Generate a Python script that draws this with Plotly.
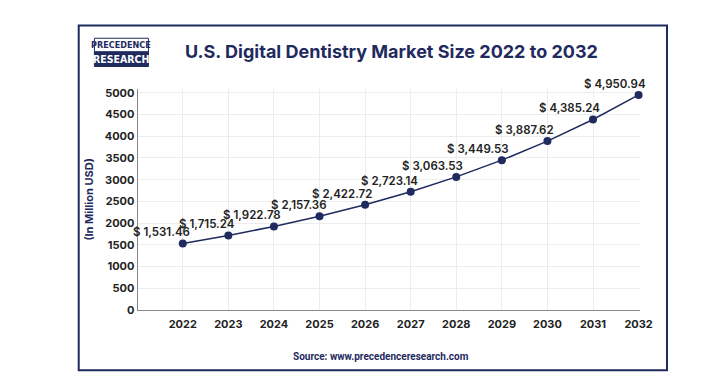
import plotly.graph_objects as go

years = [2022, 2023, 2024, 2025, 2026, 2027, 2028, 2029, 2030, 2031, 2032]
values = [1531.46, 1715.24, 1922.78, 2157.36, 2422.72, 2723.14, 3063.53, 3449.53, 3887.62, 4385.24, 4950.94]
labels = ["$ {:,.2f}".format(v) for v in values]
y_ticks = list(range(0, 5001, 500))

NAVY = "#1f2a5e"
W, H = 727, 380

def px(x):
    return x / W

def py(y):
    return 1 - y / H

fig = go.Figure()
fig.add_trace(go.Scatter(
    x=years, y=values, mode="lines+markers",
    line=dict(color=NAVY, width=1.5),
    marker=dict(color=NAVY, size=8),
    cliponaxis=False, hoverinfo="skip", showlegend=False,
))

annotations = [
    dict(x=xv, y=yv, text=t, xref="x", yref="y", showarrow=False,
         xanchor="right", yanchor="bottom", xshift=9, yshift=2,
         font=dict(family="Inter, Roboto, sans-serif", size=11.5, color="#222222", weight=600))
    for xv, yv, t in zip(years, values, labels)
]

annotations += [
    dict(text="<b>U.S. Digital Dentistry Market Size 2022 to 2032</b>", xref="paper", yref="paper",
         x=px(390), y=py(42), xanchor="center", yanchor="middle", showarrow=False,
         font=dict(family="Inter, Roboto, sans-serif", size=18, color=NAVY)),
    dict(text="<b>PRECEDENCE</b>", xref="paper", yref="paper",
         x=px(115.5), y=py(35), xanchor="center", yanchor="middle", showarrow=False,
         font=dict(family="DejaVu Sans Condensed, Liberation Sans Narrow, sans-serif", size=9, color=NAVY)),
    dict(text="<b>RESEARCH</b>", xref="paper", yref="paper",
         x=px(115.5), y=py(49.5), xanchor="center", yanchor="middle", showarrow=False,
         font=dict(family="DejaVu Sans Condensed, Liberation Sans Narrow, sans-serif", size=10.5, color="white")),
    dict(text="<b>Source: www.precedenceresearch.com</b>", xref="paper", yref="paper",
         x=px(380), y=py(355), xanchor="center", yanchor="middle", showarrow=False,
         font=dict(family="Roboto, sans-serif", size=10, color=NAVY)),
]

fig.update_layout(
    width=W, height=H,
    margin=dict(l=0, r=0, t=0, b=0),
    paper_bgcolor="white", plot_bgcolor="white",
    xaxis=dict(
        domain=[px(132), px(643)], range=[2021.01, 2032.02],
        tickvals=years, ticktext=[str(y) for y in years],
        showgrid=True, gridcolor="#ececec", gridwidth=1,
        showline=True, linecolor="#888888", linewidth=1,
        zeroline=False, ticks="outside", ticklen=4, tickcolor="white",
        tickfont=dict(family="Inter, Roboto, sans-serif", size=11, color="#222222", weight="bold"),
    ),
    yaxis=dict(
        domain=[py(307), py(80)], range=[0, 5090],
        tickvals=y_ticks,
        showgrid=True, gridcolor="#ececec", gridwidth=1,
        showline=True, linecolor="#888888", linewidth=1,
        zeroline=False, ticks="",
        tickfont=dict(family="Inter, Roboto, sans-serif", size=11, color="#222222", weight="bold"),
        title=dict(text="(In Million USD)", standoff=8,
                   font=dict(family="Inter, Roboto, sans-serif", size=11, color=NAVY, weight="bold")),
    ),
    shapes=[
        dict(type="rect", xref="paper", yref="paper", x0=px(72), x1=px(671), y0=py(369), y1=py(15),
             line=dict(color=NAVY, width=2), fillcolor="rgba(0,0,0,0)", layer="below"),
        dict(type="rect", xref="paper", yref="paper", x0=px(88), x1=px(143), y0=py(42), y1=py(28),
             line=dict(color=NAVY, width=1), fillcolor="white"),
        dict(type="rect", xref="paper", yref="paper", x0=px(88), x1=px(143), y0=py(57), y1=py(42),
             line=dict(color=NAVY, width=1), fillcolor=NAVY),
    ],
    annotations=annotations,
)

fig.write_html("out.html")
